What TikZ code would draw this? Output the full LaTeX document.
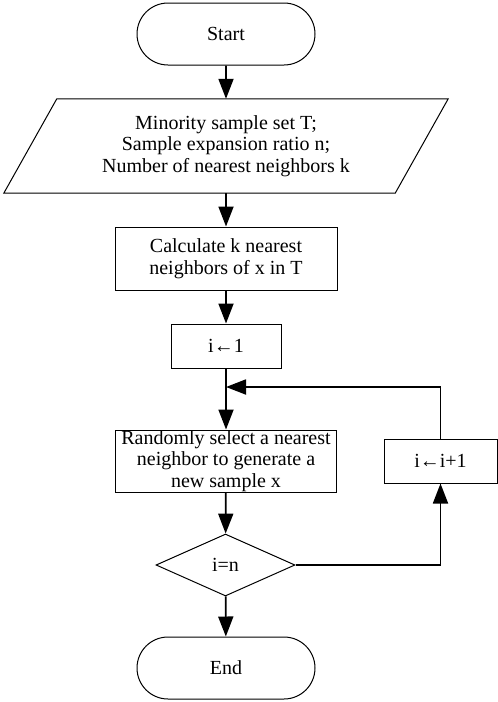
\documentclass[tikz,border=0pt]{standalone}
\usepackage{fontspec}
\setmainfont{Liberation Serif}
\usetikzlibrary{shapes.geometric,shapes.misc,arrows.meta}

\begin{document}
\begin{tikzpicture}[x=1pt,y=-1pt,
    font=\fontsize{20}{21.5}\selectfont,
    term/.style={draw,rounded rectangle,minimum width=178pt,minimum height=62pt,inner sep=0pt,line width=1pt},
    proc/.style={draw,rectangle,align=center,inner sep=0pt,line width=1pt},
    flow/.style={line width=1.8pt,-{Triangle[length=20pt,width=15pt]}}]
    \useasboundingbox (0,0) rectangle (498,702);
    \node[term] (start) at (226,34) {Start};
    \node[align=center,minimum width=391pt,minimum height=94pt,inner sep=0pt] (input) at (226,146) {Minority sample set T;\\Sample expansion ratio n;\\Number of nearest neighbors k};
    \draw[line width=1pt] ([xshift=-26.5pt]input.south west) -- ([xshift=26.5pt]input.north west)
        -- ([xshift=26.5pt]input.north east) -- ([xshift=-26.5pt]input.south east) -- cycle;
    \node[proc,minimum width=222pt,minimum height=63pt] (calc) at (226,258.5) {Calculate k nearest\\neighbors of x in T};
    \node[proc,minimum width=110pt,minimum height=44pt] (init) at (226,346) {i←1};
    \node[proc,minimum width=221pt,minimum height=62pt] (gen) at (226,461) {Randomly select a nearest\\neighbor to generate a\\new sample x};
    \node[draw,diamond,minimum width=139pt,minimum height=62pt,inner sep=0pt,line width=1pt] (check) at (225.5,565) {i=n};
    \node[proc,minimum width=113pt,minimum height=44pt] (incr) at (440.5,461) {i←i+1};
    \node[term] (end) at (226,668) {End};
    \coordinate (join) at (226,387);
    \draw[flow] (start) -- (input);
    \draw[flow] (input) -- (calc);
    \draw[flow] (calc) -- (init);
    \draw[flow] (init) -- (gen);
    \draw[flow] (gen) -- (check);
    \draw[flow] (check) -- (end);
    \draw[flow] (check.east) -| (incr);
    \draw[flow] (incr) |- (join);
\end{tikzpicture}
\end{document}
